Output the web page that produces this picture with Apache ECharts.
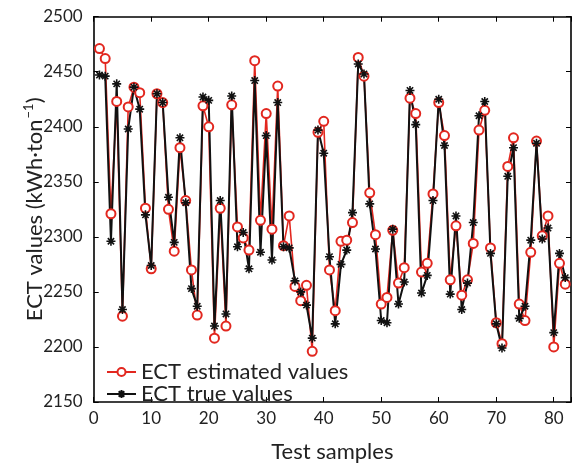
<!DOCTYPE html>
<html>
<head>
<meta charset="utf-8">
<script src="https://cdn.jsdelivr.net/npm/echarts@6/dist/echarts.min.js"></script>
<style>
  html, body { margin: 0; padding: 0; background: #fff; }
  #chart { width: 574px; height: 468px; }
</style>
</head>
<body>
<div id="chart"></div>
<script>
// 估计值 / 真实值 (samples 1..82)
const estimatedValues = [
  2471, 2462, 2321, 2423, 2228, 2418, 2436, 2431, 2326, 2271,
  2430, 2422, 2325, 2287, 2381, 2333, 2270, 2229, 2419, 2400,
  2208, 2326, 2219, 2420, 2309, 2299, 2288, 2460, 2315, 2412,
  2307, 2437, 2292, 2319, 2255, 2242, 2256, 2196, 2395, 2405,
  2270, 2233, 2296, 2297, 2313, 2463, 2446, 2340, 2302, 2239,
  2245, 2306, 2258, 2272, 2426, 2412, 2268, 2276, 2339, 2422,
  2392, 2261, 2310, 2247, 2261, 2294, 2397, 2415, 2290, 2222,
  2203, 2364, 2390, 2239, 2224, 2286, 2387, 2301, 2319, 2200,
  2276, 2257
];
const trueValues = [
  2447, 2446, 2296, 2439, 2234, 2398, 2436, 2416, 2320, 2274,
  2430, 2422, 2336, 2295, 2390, 2331, 2253, 2237, 2427, 2424,
  2219, 2333, 2230, 2428, 2291, 2304, 2271, 2442, 2286, 2392,
  2279, 2422, 2291, 2290, 2260, 2250, 2238, 2208, 2397, 2376,
  2282, 2221, 2275, 2288, 2322, 2457, 2448, 2330, 2289, 2224,
  2222, 2307, 2239, 2259, 2433, 2402, 2249, 2265, 2333, 2425,
  2383, 2248, 2319, 2234, 2258, 2313, 2410, 2423, 2285, 2221,
  2199, 2355, 2381, 2226, 2237, 2297, 2385, 2298, 2308, 2213,
  2285, 2263
];
const xTicks = [0, 10, 20, 30, 40, 50, 60, 70, 80];
const yTicks = [2150, 2200, 2250, 2300, 2350, 2400, 2450, 2500];

const font = 'Lato';
const red = '#e2271f';
const black = '#111111';

const toPairs = (arr) => arr.map((v, i) => [i + 1, v]);

// 星号 marker
const asterisk = 'path://M5,0L5,10M0,5L10,5M1.5,1.5L8.5,8.5M1.5,8.5L8.5,1.5';

const chart = echarts.init(document.getElementById('chart'));

const axisLine = { show: true, onZero: false, lineStyle: { color: '#000', width: 1.6 } };
const axisTick = { show: true, inside: true, length: 5, lineStyle: { color: '#000', width: 1 } };

const options = {
  animation: false,
  backgroundColor: '#fff',
  grid: { left: 93.7, top: 16.7, bottom: 60, right: -1, containLabel: false },
  xAxis: [
    {
      type: 'value', min: 0, max: 83, interval: 10, position: 'bottom',
      axisLine, axisTick,
      splitLine: { show: false },
      axisLabel: {
        margin: 8, color: '#222', fontFamily: font, fontSize: 17,
        formatter: (v) => (xTicks.includes(v) ? String(v) : '')
      },
      name: 'Test samples', nameLocation: 'middle', nameGap: 39, nameMoveOverlap: false,
      nameTextStyle: { color: '#222', fontFamily: font, fontSize: 22 }
    },
    {
      type: 'value', min: 0, max: 83, interval: 10, position: 'top',
      axisLine, axisTick, splitLine: { show: false }, axisLabel: { show: false }
    }
  ],
  yAxis: [
    {
      type: 'value', min: 2150, max: 2500, interval: 50, position: 'left',
      axisLine, axisTick,
      splitLine: { show: false },
      axisLabel: {
        margin: 11, color: '#222', fontFamily: font, fontSize: 17,
        formatter: (v) => (yTicks.includes(v) ? String(v) : '')
      },
      name: '{a|ECT values (kWh·ton}{s|−1}{a|)}',
      nameLocation: 'middle', nameGap: 46, nameRotate: 90, nameMoveOverlap: false,
      nameTextStyle: {
        color: '#222', fontFamily: font, fontSize: 22,
        rich: {
          a: { fontFamily: font, fontSize: 22, color: '#222' },
          s: { fontFamily: font, fontSize: 13, color: '#222', verticalAlign: 'top', padding: [0, 0, 12, 1] }
        }
      }
    },
    {
      type: 'value', min: 2150, max: 2500, interval: 50, position: 'right',
      axisLine, axisTick, splitLine: { show: false }, axisLabel: { show: false }
    }
  ],
  legend: {
    orient: 'vertical', left: 106, top: 361, padding: 0,
    itemWidth: 29, itemHeight: 10, itemGap: 0,
    textStyle: { fontFamily: font, fontSize: 22, color: '#222', lineHeight: 21 },
    data: ['ECT estimated values', 'ECT true values']
  },
  series: [
    {
      name: 'ECT estimated values', type: 'line',
      data: toPairs(estimatedValues),
      symbol: 'emptyCircle', symbolSize: 9,
      lineStyle: { color: red, width: 1.6 },
      itemStyle: { color: red, borderColor: red, borderWidth: 1.6 }
    },
    {
      name: 'ECT true values', type: 'line',
      data: toPairs(trueValues),
      symbol: asterisk, symbolSize: 9,
      lineStyle: { color: black, width: 2 },
      itemStyle: { color: black, borderColor: black, borderWidth: 1.6 }
    }
  ]
};

chart.setOption(options);
</script>
</body>
</html>
